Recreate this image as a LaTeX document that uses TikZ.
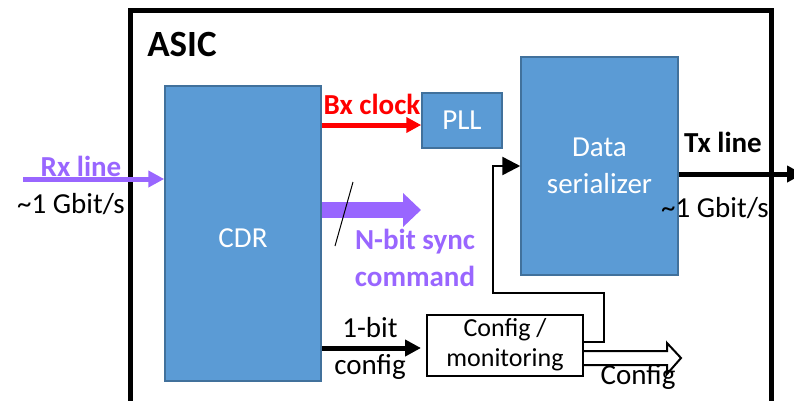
\documentclass[tikz,border=0pt]{standalone}
\usepackage{fontspec}
\setmainfont{Carlito}
\usetikzlibrary{arrows.meta}
\definecolor{boxblue}{HTML}{5B9BD5}
\definecolor{boxedge}{HTML}{41719C}
\definecolor{purp}{HTML}{9966FF}
\begin{document}
\begin{tikzpicture}[x=1pt,y=-1pt,
  blk/.style={draw=boxedge, fill=boxblue, line width=1.5pt, inner sep=0pt, text=white,
    font=\fontsize{29}{37}\selectfont, align=center},
  lbl/.style={inner sep=0pt, font=\fontsize{29}{37}\selectfont, align=center},
  blbl/.style={lbl, font=\fontsize{29}{37}\selectfont\bfseries},
  thickarrow/.style={line width=5pt, -{Triangle[length=16pt,width=16pt]}},
]
\useasboundingbox (0,0) rectangle (794,400);
\begin{scope}
\clip (0,0) rectangle (794,400);
% ASIC frame
\draw[line width=5pt] (130,420) -- (130,10.5) -- (771,10.5) -- (771,420);
\node[blbl, font=\fontsize{37}{40}\selectfont\bfseries] (asic) at (182,44) {ASIC};

% blocks
\node[blk, minimum width=156pt, minimum height=295pt] (cdr) at (243,233.5) {};
\node[inner sep=0pt, text=white, font=\fontsize{29}{35}\selectfont] (cdrtxt) at (243,238) {CDR};
\node[blk, minimum width=80pt, minimum height=55pt] (pll) at (462,120.5) {PLL};
\node[blk, minimum width=157pt, minimum height=218pt] (ser) at (599.5,166) {Data\\serializer};
\node[draw, line width=2pt, minimum width=156pt, minimum height=61pt, inner sep=0pt,
  font=\fontsize{26}{30}\selectfont, align=center] (cfg) at (505,345) {Config /\\monitoring};

% Rx line
\coordinate (rxin) at (23,179);
\draw[purp, thickarrow] (rxin) -- (rxin -| cdr.west);
\node[blbl, text=purp] (rxl) at (81,166) {Rx line};
\node[lbl] (rxr) at (71,204) {\textasciitilde 1 Gbit/s};

% Bx clock
\draw[red, line width=5pt, -{Triangle[length=15pt,width=15pt]}] (cdr.east |- 0,125) -- (pll.west |- 0,125);
\node[blbl, text=red] (bxl) at (372,104) {Bx clock};

% N-bit sync command
\coordinate (nbend) at (421,210);
\draw[purp, line width=16pt, -{Triangle[length=18pt,width=33pt]}] (cdr.east |- nbend) -- (nbend);
\coordinate (sl1) at (353,182);
\coordinate (sl2) at (335,246);
\draw[line width=1pt] (sl1) -- (sl2);
\node[blbl, text=purp] (nbl) at (415,258) {N-bit sync\\command};

% 1-bit config
\draw[thickarrow] (cdr.east |- 0,348) -- (421,348);
\node[lbl] (obl) at (370,348) {1-bit\\config};

% feedback loop
\coordinate (fb1) at (604,342);
\coordinate (fb2) at (604,293);
\coordinate (fb3) at (493,293);
\coordinate (fb4) at (493,166);
\draw[line width=2.5pt, -{Triangle[length=18pt,width=18pt]}]
  (cfg.east |- fb1) -- (fb1) -- (fb2) -- (fb3) -- (fb4) -- (ser.west |- fb4);

% hollow Config arrow
\draw[line width=2pt, fill=white, line join=miter]
  (cfg.east |- 0,351) -- (667,351) -- (667,343) -- (681,358) -- (667,374) -- (667,365) -- (cfg.east |- 0,365);
\node[lbl] (cfgl) at (638,377) {Config};

% Tx line
\coordinate (txend) at (803,174);
\draw[line width=5pt, -{Triangle[length=16pt,width=16pt]}] (ser.east |- txend) -- (txend);
\node[blbl] (txl) at (723,142) {Tx line};
\node[lbl] (txr) at (715,208) {\textasciitilde 1 Gbit/s};
\end{scope}
\end{tikzpicture}
\end{document}
